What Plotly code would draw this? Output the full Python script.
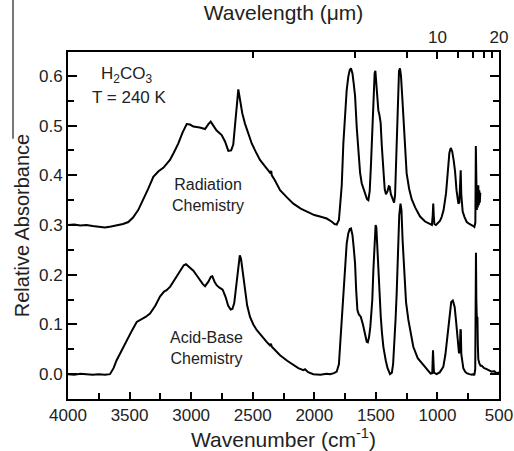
import plotly.graph_objects as go

# ---- data ----
wn_radiation = [4000, 3950, 3900, 3850, 3800, 3750, 3700, 3650, 3600, 3553, 3510, 3472, 3430, 3389, 3350,
                3307, 3265, 3226, 3172, 3140, 3104, 3070, 3036, 3010, 2982, 2930, 2887, 2860, 2841, 2820,
                2793, 2752, 2725, 2698, 2675, 2658, 2640, 2625, 2617, 2605, 2585, 2563, 2535, 2508, 2475,
                2441, 2400, 2370, 2355, 2350, 2345, 2320, 2278, 2220, 2170, 2110, 2062, 2000, 1954, 1899,
                1860, 1835, 1818, 1800, 1791, 1777, 1764, 1750, 1737, 1724, 1712, 1702, 1690, 1680, 1669,
                1655, 1642, 1628, 1615, 1600, 1585, 1572, 1561, 1550, 1540, 1530, 1520, 1510, 1504, 1495,
                1487, 1480, 1470, 1461, 1452, 1439, 1428, 1418, 1405, 1395, 1388, 1378, 1365, 1352, 1344,
                1337, 1331, 1322, 1312, 1304, 1296, 1285, 1277, 1265, 1250, 1230, 1209, 1180, 1141, 1100,
                1060, 1045, 1038, 1034, 1030, 1025, 1012, 998, 980, 966, 950, 930, 915, 903, 892,
                880, 868, 857, 845, 830, 822, 815, 811, 806, 800, 795, 780, 762, 740, 720,
                709, 700, 692, 688, 684, 680, 676, 672, 668, 664, 660, 656, 652]
abs_radiation = [0.300, 0.301, 0.299, 0.300, 0.298, 0.296, 0.295, 0.297, 0.299, 0.302, 0.306, 0.315, 0.330, 0.350, 0.372,
                 0.397, 0.408, 0.415, 0.431, 0.446, 0.464, 0.486, 0.503, 0.502, 0.498, 0.496, 0.493, 0.503, 0.508, 0.500,
                 0.490, 0.481, 0.468, 0.449, 0.450, 0.462, 0.510, 0.560, 0.573, 0.555, 0.525, 0.504, 0.482, 0.464, 0.447,
                 0.431, 0.418, 0.407, 0.404, 0.409, 0.400, 0.390, 0.370, 0.355, 0.343, 0.333, 0.327, 0.320, 0.317, 0.313,
                 0.307, 0.302, 0.301, 0.310, 0.337, 0.380, 0.464, 0.530, 0.571, 0.598, 0.612, 0.615, 0.605, 0.585, 0.560,
                 0.495, 0.444, 0.405, 0.384, 0.372, 0.358, 0.352, 0.350, 0.368, 0.420, 0.490, 0.565, 0.605, 0.610, 0.580,
                 0.540, 0.531, 0.520, 0.505, 0.460, 0.400, 0.372, 0.362, 0.368, 0.378, 0.377, 0.362, 0.352, 0.345, 0.360,
                 0.420, 0.498, 0.575, 0.610, 0.615, 0.600, 0.555, 0.515, 0.455, 0.404, 0.373, 0.352, 0.335, 0.317, 0.307,
                 0.301, 0.300, 0.320, 0.343, 0.320, 0.302, 0.300, 0.303, 0.308, 0.316, 0.330, 0.364, 0.410, 0.445, 0.455,
                 0.448, 0.430, 0.408, 0.370, 0.343, 0.345, 0.400, 0.410, 0.360, 0.335, 0.327, 0.316, 0.306, 0.302, 0.300,
                 0.298, 0.296, 0.305, 0.459, 0.380, 0.330, 0.370, 0.335, 0.380, 0.340, 0.370, 0.345, 0.365]

wn_acidbase = [4000, 3950, 3900, 3850, 3800, 3750, 3700, 3659, 3630, 3605, 3565, 3523, 3480, 3442, 3400,
               3370, 3334, 3290, 3253, 3220, 3199, 3170, 3145, 3110, 3090, 3060, 3042, 3020, 2982, 2950,
               2928, 2905, 2887, 2860, 2840, 2828, 2810, 2793, 2770, 2744, 2720, 2700, 2679, 2665, 2650,
               2635, 2620, 2605, 2595, 2580, 2563, 2545, 2522, 2495, 2468, 2430, 2387, 2360, 2352, 2345,
               2320, 2278, 2220, 2170, 2130, 2089, 2075, 2050, 2008, 1950, 1900, 1872, 1840, 1818, 1800,
               1791, 1777, 1764, 1750, 1737, 1724, 1712, 1702, 1690, 1680, 1669, 1660, 1650, 1638, 1622,
               1605, 1590, 1574, 1565, 1555, 1545, 1535, 1529, 1520, 1510, 1502, 1496, 1488, 1480, 1472,
               1460, 1450, 1439, 1420, 1405, 1385, 1370, 1360, 1350, 1340, 1331, 1320, 1310, 1300, 1292,
               1283, 1269, 1255, 1236, 1215, 1196, 1160, 1115, 1080, 1055, 1042, 1038, 1036, 1033, 1028,
               1006, 980, 952, 935, 920, 912, 900, 888, 875, 860, 850, 844, 835, 825, 818,
               813, 810, 806, 800, 790, 775, 762, 740, 720, 709, 700, 693, 690, 687, 684,
               681, 678, 675, 672, 668, 660, 650, 640, 620, 600, 580, 560, 540, 520, 505, 500]
abs_acidbase = [0.000, -0.001, 0.001, 0.000, -0.001, 0.000, -0.001, 0.000, 0.012, 0.028, 0.048, 0.068, 0.088, 0.105, 0.111,
                0.115, 0.122, 0.138, 0.156, 0.166, 0.169, 0.176, 0.186, 0.200, 0.209, 0.219, 0.221, 0.216, 0.208, 0.197,
                0.189, 0.181, 0.177, 0.186, 0.196, 0.197, 0.186, 0.179, 0.174, 0.170, 0.155, 0.138, 0.130, 0.131, 0.143,
                0.175, 0.220, 0.239, 0.232, 0.200, 0.169, 0.138, 0.115, 0.100, 0.089, 0.077, 0.065, 0.058, 0.061, 0.055,
                0.048, 0.038, 0.027, 0.018, 0.012, 0.008, 0.010, 0.004, 0.000, -0.001, 0.001, 0.000, 0.002, 0.005, 0.020,
                0.055, 0.110, 0.162, 0.229, 0.262, 0.283, 0.292, 0.293, 0.280, 0.255, 0.223, 0.170, 0.129, 0.120, 0.115,
                0.100, 0.080, 0.065, 0.064, 0.075, 0.095, 0.125, 0.149, 0.210, 0.270, 0.300, 0.295, 0.250, 0.200, 0.162,
                0.115, 0.082, 0.055, 0.028, 0.012, 0.000, 0.003, 0.020, 0.060, 0.110, 0.162, 0.250, 0.320, 0.343, 0.330,
                0.270, 0.196, 0.145, 0.109, 0.078, 0.055, 0.032, 0.018, 0.008, 0.001, 0.002, 0.035, 0.048, 0.030, 0.003,
                0.000, 0.004, 0.015, 0.040, 0.075, 0.095, 0.130, 0.145, 0.148, 0.135, 0.110, 0.095, 0.065, 0.042, 0.045,
                0.090, 0.088, 0.040, 0.025, 0.012, 0.005, 0.002, 0.000, -0.001, 0.000, -0.002, 0.010, 0.150, 0.244, 0.150,
                0.120, 0.110, 0.115, 0.060, 0.030, 0.022, 0.017, 0.017, 0.012, 0.010, 0.008, 0.005, 0.006, 0.002, 0.003, 0.001]

wavelength_labeled_um = [10, 20]
wavelength_minor_um = [4, 6, 8, 12, 14, 16, 18]
x_ticks = [4000, 3500, 3000, 2500, 2000, 1500, 1000, 500]
y_ticks = [0.0, 0.1, 0.2, 0.3, 0.4, 0.5, 0.6]

FONT = "Liberation Sans, Arial, sans-serif"
LINE = dict(color="black", width=2)
TXT = "#222"

fig = go.Figure()
fig.add_trace(go.Scatter(x=wn_radiation, y=abs_radiation, mode="lines", line=LINE, showlegend=False))
fig.add_trace(go.Scatter(x=wn_acidbase, y=abs_acidbase, mode="lines", line=LINE, showlegend=False))
# trace bound to the top (wavelength) axis so that it is drawn
fig.add_trace(go.Scatter(x=[4000, 500], y=[-1, -1], xaxis="x2", mode="lines",
                         line=dict(width=0), hoverinfo="skip", showlegend=False))

fig.update_layout(
    width=514, height=451,
    margin=dict(l=68, r=15, t=52, b=52, autoexpand=False),
    paper_bgcolor="white", plot_bgcolor="white",
    font=dict(family=FONT, color=TXT, size=17),
    xaxis=dict(
        range=[4000, 500], tickvals=x_ticks, ticktext=[str(v) for v in x_ticks],
        ticks="inside", ticklen=7, tickwidth=1.5, tickcolor="black",
        minor=dict(dtick=250, tick0=0, ticks="inside", ticklen=6, tickwidth=1.5, tickcolor="black"),
        showline=True, linecolor="black", linewidth=2, showgrid=False, zeroline=False,
        tickfont=dict(size=17, color=TXT), automargin=False,
        title=dict(text="Wavenumber (cm<sup>-1</sup>)", font=dict(size=21, color=TXT), standoff=4),
    ),
    xaxis2=dict(
        overlaying="x", side="top", range=[4000, 500], anchor="y",
        tickvals=[1e4 / w for w in wavelength_labeled_um], ticktext=[str(w) for w in wavelength_labeled_um],
        ticks="inside", ticklen=7, tickwidth=1.5, tickcolor="black",
        minor=dict(tickvals=[1e4 / w for w in wavelength_minor_um], ticks="inside", ticklen=6,
                   tickwidth=1.5, tickcolor="black", showgrid=False),
        showline=True, linecolor="black", linewidth=2, showgrid=False, zeroline=False,
        tickfont=dict(size=17, color=TXT), automargin=False,
        title=dict(text="Wavelength (μm)", font=dict(size=21, color=TXT), standoff=2),
    ),
    yaxis=dict(
        range=[-0.05, 0.648], tickvals=y_ticks, ticktext=[f"{v:.1f}" for v in y_ticks],
        ticks="inside", ticklen=9, tickwidth=1.5, tickcolor="black",
        minor=dict(dtick=0.05, tick0=0, ticks="inside", ticklen=6, tickwidth=1.5, tickcolor="black"),
        showline=True, linecolor="black", linewidth=2, mirror="ticks", showgrid=False, zeroline=False,
        tickfont=dict(size=17, color=TXT), automargin=False,
        title=dict(text="Relative Absorbance", font=dict(size=20, color=TXT), standoff=4),
    ),
)

ann_font = dict(family=FONT, size=17, color=TXT)
fig.add_annotation(x=3529, y=0.602, text="H<sub>2</sub>CO<sub>3</sub>", showarrow=False, font=ann_font)
fig.add_annotation(x=3497, y=0.557, text="T = 240 K", showarrow=False, font=ann_font)
fig.add_annotation(x=2863, y=0.360, text="Radiation<br>Chemistry", showarrow=False,
                   font=dict(family=FONT, size=16, color=TXT))
fig.add_annotation(x=2879, y=0.052, text="Acid-Base<br>Chemistry", showarrow=False,
                   font=dict(family=FONT, size=16, color=TXT))

# gray edge line at far left (edge of a neighbouring panel)
fig.add_shape(type="line", xref="paper", yref="paper", x0=-0.1276, x1=-0.1276, y0=1.16, y1=0.75,
              line=dict(color="#777", width=2))

fig.write_html("out.html", config={"displayModeBar": False},
               post_script="document.body.style.margin='0';document.body.style.overflow='hidden';")
